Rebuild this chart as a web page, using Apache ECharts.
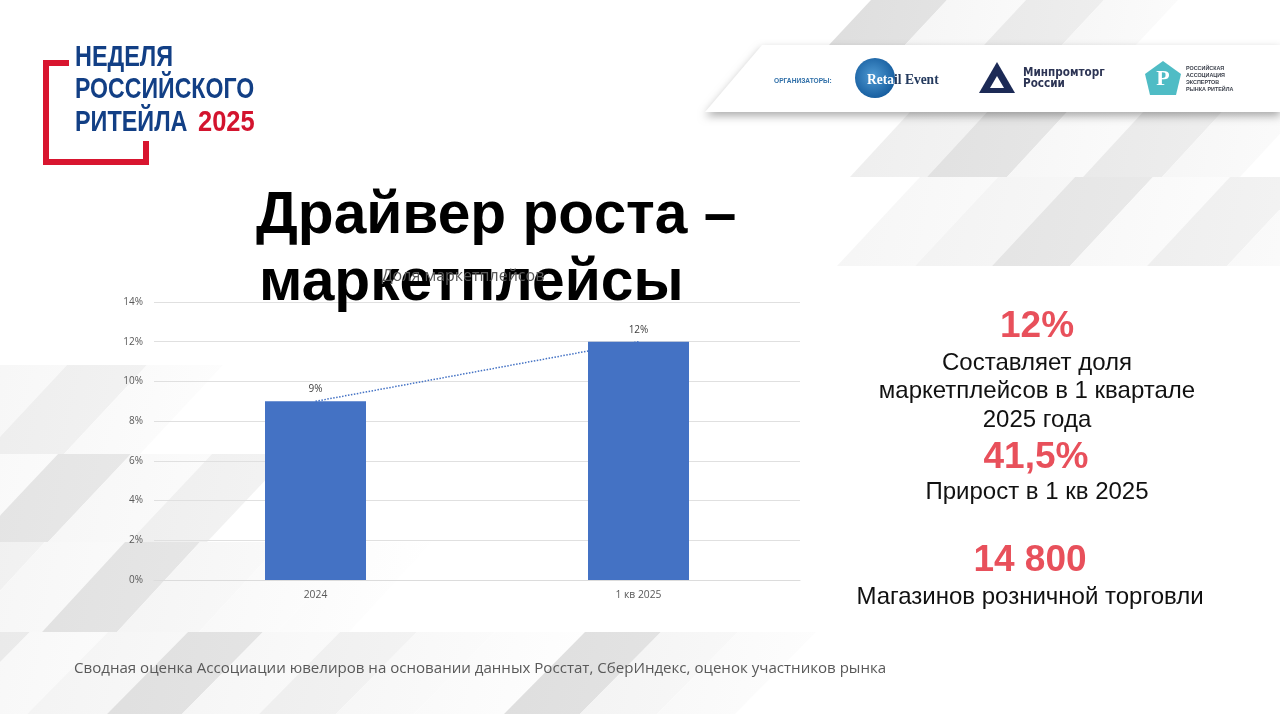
<!DOCTYPE html>
<html><head><meta charset="utf-8">
<style>html,body{margin:0;padding:0;background:#fff}#c{width:1280px;height:714px}</style>
<script src="https://cdn.jsdelivr.net/npm/echarts@6/dist/echarts.min.js"></script>
</head><body><div id="c"></div>
<script>
const categories = ['2024', '1 кв 2025'];
const shareValues = [9, 12];
const yTicks = { min: 0, max: 14, step: 2 };
const chartTitle = 'Доля маркетплейсов';
const headingLines = ['Драйвер роста –', 'маркетплейсы'];
const footerText = 'Сводная оценка Ассоциации ювелиров на основании данных Росстат, СберИндекс, оценок участников рынка';
const stats = [
  ['n', '12%', 1037, 327], ['t', 'Составляет доля', 1037, 363], ['t', 'маркетплейсов в 1 квартале', 1037, 391], ['t', '2025 года', 1037, 420],
  ['n', '41,5%', 1036, 458], ['t', 'Прирост в 1 кв 2025', 1037, 492],
  ['n', '14 800', 1030, 561], ['t', 'Магазинов розничной торговли', 1030, 597]
];
// decorative bands: [yTop, yBottom, slant, [[xTopStart, xTopEnd, colour], ...]]
const bands = [
  [0, 46, 43, [[871,947,'#dedede'],[947,1026,'#f5f5f5'],[1026,1104,'#e9e9e9'],[1104,1178,'#f6f6f6']]],
  [112, 177, 60, [[910,987,'#eeeeee'],[987,1067,'#e1e1e1'],[1067,1143,'#f6f6f6'],[1143,1222,'#e9e9e9'],[1222,1300,'#f6f6f6']]],
  [177, 266, 83, [[920,998,'#f5f5f5'],[998,1075,'#f2f2f2'],[1075,1153,'#e4e4e4'],[1153,1230,'#f7f7f7'],[1230,1310,'#eeeeee'],[1310,1390,'#f8f8f8']]],
  [365, 454, 83, [[-16,67,'#f4f4f4'],[67,147,'#ededed'],[147,223,'#f8f8f8']]],
  [454, 542, 83, [[-25,58,'#f6f6f6'],[58,131,'#e3e3e3'],[131,212,'#f6f6f6'],[212,290,'#eeeeee']]],
  [542, 632, 83, [[-35,45,'#ededed'],[45,125,'#f5f5f5'],[125,200,'#e1e1e1'],[200,282,'#f4f4f4'],[282,360,'#f8f8f8'],[360,432,'#fafafa']]],
  [632, 714, 81, [[-50,30,'#e6e6e6'],[30,108,'#f6f6f6'],[108,188,'#f3f3f3'],[188,263,'#dfdfdf'],[263,340,'#f5f5f5'],[340,417,'#eeeeee'],[417,495,'#f6f6f6'],[495,585,'#f9f9f9'],[585,661,'#dedede'],[661,738,'#f3f3f3'],[738,816,'#f8f8f8']]]
];

const gfx = [];
function lighter(hex, d) {
  const v = Math.min(255, parseInt(hex.slice(1, 3), 16) + d).toString(16);
  return '#' + v + v + v;
}
function poly(points, fill, z, extra) {
  gfx.push({ type: 'polygon', silent: true, z: z, shape: { points: points }, style: Object.assign({ fill: fill }, extra || {}) });
}
function txt(text, x, y, font, fill, z, align, extra) {
  gfx.push(Object.assign({ type: 'text', silent: true, z: z, x: x, y: y,
    style: { text: text, font: font, fill: fill, align: align || 'left', verticalAlign: 'middle' } }, extra || {}));
}
bands.forEach(b => b[3].forEach(s => {
  poly([[s[0],b[0]],[s[1],b[0]],[s[1]-b[2],b[1]],[s[0]-b[2],b[1]]],
    { type:'linear', x:0, y:0, x2:1, y2:0.4, colorStops:[{offset:0,color:s[2]},{offset:1,color:lighter(s[2],5)}] }, -20);
}));
// organiser strip
poly([[762,45],[1280,45],[1280,112],[705,112]], '#ffffff', -10, { shadowBlur: 8, shadowColor: 'rgba(0,0,0,0.32)', shadowOffsetY: 4 });

// event logo
gfx.push({ type:'polyline', silent:true, z:1, shape:{ points:[[69,63],[46,63],[46,162],[146,162],[146,141]] },
  style:{ stroke:'#d8152f', lineWidth:6, fill:null } });
const cond = 'bold 30px "Liberation Sans"';
txt('НЕДЕЛЯ', 75, 58, cond, '#123f85', 1, 'left', { scaleX: 0.78 });
txt('РОССИЙСКОГО', 75, 90, cond, '#123f85', 1, 'left', { scaleX: 0.77 });
txt('РИТЕЙЛА', 75, 123, cond, '#123f85', 1, 'left', { scaleX: 0.78 });
txt('2025', 198, 123, cond, '#d3142e', 1, 'left', { scaleX: 0.85 });

// organisers
txt('ОРГАНИЗАТОРЫ:', 774, 81, 'bold 7.5px "Liberation Sans"', '#2f6fa8', 1, 'left', { scaleX: 0.88 });
gfx.push({ type:'circle', silent:true, z:1, shape:{ cx:875, cy:78, r:20 }, style:{ fill:{ type:'radial', x:0.45, y:0.45, r:0.6, colorStops:[{offset:0,color:'#4f9ad3'},{offset:1,color:'#135a9c'}] } } });
txt('Reta', 867, 80, 'bold 15px "Liberation Serif"', '#ffffff', 2, 'left', { scaleX: 0.9 });
txt('il Event', 894, 80, 'bold 15px "Liberation Serif"', '#23395d', 2, 'left', { scaleX: 0.9 });
poly([[997,62],[1015,93],[979,93]], '#1c2a56', 1);
poly([[997,76],[1004,88],[990,88]], '#ffffff', 2);
txt('Минпромторг', 1023, 73, 'bold 11.5px "DejaVu Sans"', '#2c3454', 1, 'left', { scaleX: 0.91 });
txt('России', 1023, 84, 'bold 11.5px "DejaVu Sans"', '#2c3454', 1, 'left', { scaleX: 0.91 });
poly([[1163,61],[1181,74],[1176,95],[1150,95],[1145,74]], '#4fbcc5', 1);
txt('Р', 1163, 79, 'bold 22px "Liberation Serif"', '#ffffff', 2, 'center');
['РОССИЙСКАЯ','АССОЦИАЦИЯ','ЭКСПЕРТОВ','РЫНКА РИТЕЙЛА'].forEach((t, i) =>
  txt(t, 1186, 69 + i * 7, 'bold 5.4px "Liberation Sans"', '#3a3f4a', 1));

// heading, statistics, footer
headingLines.forEach((t, i) => txt(t, i ? 259 : 256, i ? 284 : 217, 'bold 58.7px "Liberation Sans"', '#000000', 3));
stats.forEach(s => s[0] === 'n'
  ? txt(s[1], s[2], s[3], 'bold 37px "Liberation Sans"', '#e8505b', 3, 'center')
  : txt(s[1], s[2], s[3], '24px "Liberation Sans"', '#111111', 3, 'center'));
txt(footerText, 74, 669, '15.08px "Open Sans"', '#595959', 3);

const chart = echarts.init(document.getElementById('c'), null, { renderer: 'canvas' });
chart.setOption({
  animation: false,
  backgroundColor: '#ffffff',
  title: { text: chartTitle, left: 458, top: 271, textAlign: 'center', textVerticalAlign: 'middle', z: 8,
    textStyle: { fontFamily: '"Open Sans"', fontSize: 16, fontWeight: 'normal', color: '#595959' } },
  grid: { left: 154, right: 480, top: 302, bottom: 134 },
  xAxis: { type: 'category', data: categories, axisTick: { show: false },
    axisLine: { lineStyle: { color: '#dcdcdc', width: 1 } },
    axisLabel: { margin: 10, fontFamily: '"Open Sans"', fontSize: 10.3, color: '#595959' } },
  yAxis: { type: 'value', min: yTicks.min, max: yTicks.max, interval: yTicks.step,
    axisLine: { show: false }, axisTick: { show: false },
    splitLine: { lineStyle: { color: '#e0e0e0', width: 1 } },
    axisLabel: { margin: 11, formatter: '{value}%', fontFamily: '"Open Sans"', fontSize: 10, color: '#595959' } },
  series: [
    { type: 'line', data: shareValues, z: 1, showSymbol: false, silent: true,
      lineStyle: { type: 'dotted', color: '#4472c4', width: 1.5 } },
    { type: 'bar', data: shareValues, barWidth: 101, z: 2, itemStyle: { color: '#4472c4' },
      label: { show: true, position: 'top', distance: 7, formatter: '{c}%', fontFamily: '"Open Sans"', fontSize: 10, color: '#404040' } }
  ],
  graphic: { elements: gfx }
});
</script></body></html>
